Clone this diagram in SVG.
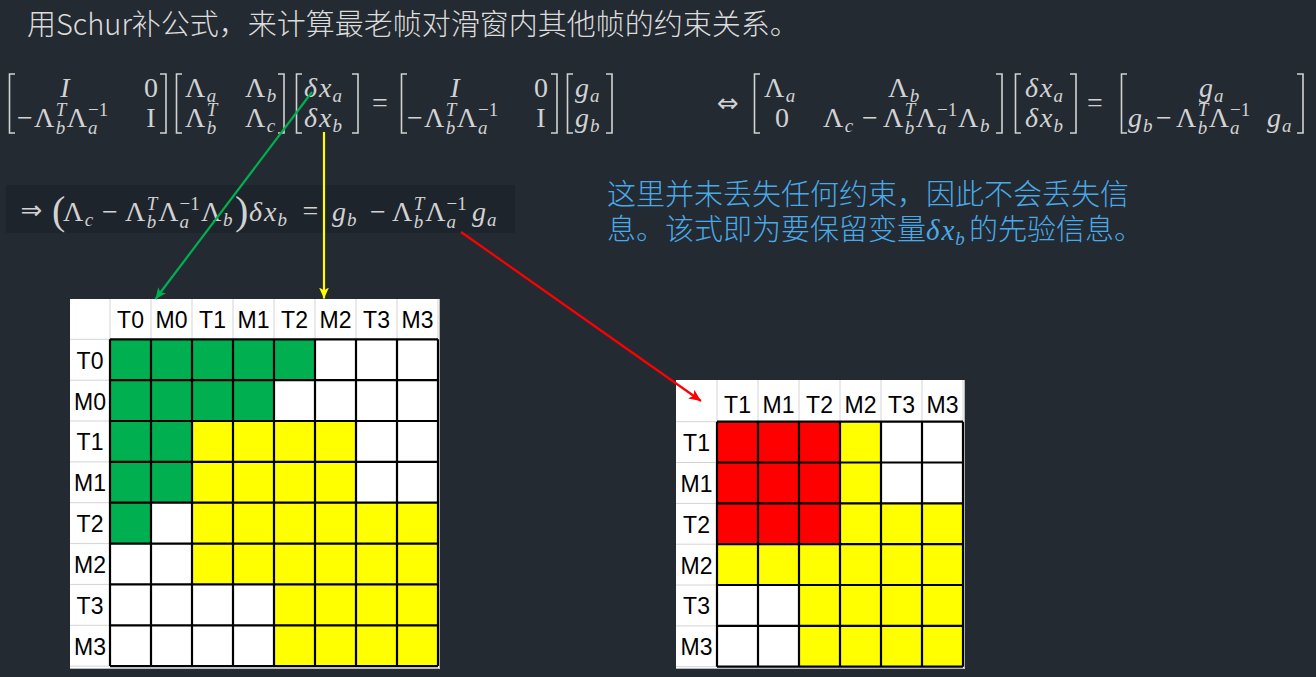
<svg xmlns="http://www.w3.org/2000/svg" width="1316" height="677" viewBox="0 0 1316 677">
<style>
.t{font-family:"Noto Sans CJK SC","Noto Sans",sans-serif;font-size:29px;fill:#dcdcdc;font-weight:300}
.bl{font-family:"Noto Sans CJK SC","Noto Sans",sans-serif;font-size:29px;fill:#4aa9e6;font-weight:300}
.m{font-family:"Liberation Serif",serif;font-size:28px;fill:#d2d2d2}
.bm{font-family:"Liberation Serif",serif;font-size:29px;fill:#4aa9e6;font-style:italic}
.i{font-style:italic}
.s{font-size:19px}
.ar{font-family:"DejaVu Sans",sans-serif;font-size:26px;fill:#d2d2d2}
.br{fill:none;stroke:#d2d2d2;stroke-width:1.6}
.h{font-family:"Liberation Sans",Arial,sans-serif;font-size:23px;fill:#000;text-anchor:middle}
.lg{fill:none;stroke:#d4d4d4;stroke-width:1}
.bk{fill:none;stroke:#000;stroke-width:2.2}
.G{fill:#00b050}.Y{fill:#ffff00}.R{fill:#ff0000}
.c{fill:none;stroke-width:2.2}
</style>
<defs>
<marker id="ag" viewBox="0 0 10 10" refX="10" refY="5" markerWidth="11" markerHeight="11" markerUnits="userSpaceOnUse" orient="auto"><path d="M0,0.5 L10,5 L0,9.5 L2.5,5 z" fill="#00b050"/></marker>
<marker id="ay" viewBox="0 0 10 10" refX="10" refY="5" markerWidth="11" markerHeight="11" markerUnits="userSpaceOnUse" orient="auto"><path d="M0,0.5 L10,5 L0,9.5 L2.5,5 z" fill="#ffff00"/></marker>
<marker id="ar" viewBox="0 0 10 10" refX="10" refY="5" markerWidth="12" markerHeight="12" markerUnits="userSpaceOnUse" orient="auto"><path d="M0,0.5 L10,5 L0,9.5 L2.5,5 z" fill="#ff0000"/></marker>
</defs>
<rect width="1316" height="677" fill="#232a32"/>

<g id="title">
<text class="t" x="27" y="35">用Schur补公式，来计算最老帧对滑窗内其他帧的约束关系。</text>
</g>

<g id="eq1">
<path class="br" d="M15,74H9.5V133H15M160,74H166V133H160"/>
<text class="m i" x="65" y="97" text-anchor="middle">I</text>
<text class="m" x="151" y="97" text-anchor="middle">0</text>
<text class="m" x="17" y="127">−</text>
<text class="m" x="34" y="127">Λ<tspan class="s i" dx="1.5" dy="-11">T</tspan><tspan class="s i" dx="-10.6" dy="18">b</tspan><tspan dx="1.5" dy="-7">Λ</tspan><tspan class="s" dx="1" dy="-11">−1</tspan><tspan class="s i" dx="-20.2" dy="18">a</tspan></text>
<text class="m" x="151" y="127" text-anchor="middle">I</text>

<path class="br" d="M182,74H176.5V133H182M278,74H284V133H278"/>
<text class="m" x="185" y="97">Λ<tspan class="s i" dx="1.5" dy="5">a</tspan></text>
<text class="m" x="245" y="97">Λ<tspan class="s i" dx="1.5" dy="5">b</tspan></text>
<text class="m" x="185" y="127">Λ<tspan class="s i" dx="1.5" dy="-11">T</tspan><tspan class="s i" dx="-10.6" dy="18">b</tspan></text>
<text class="m" x="245" y="127">Λ<tspan class="s i" dx="1.5" dy="5">c</tspan></text>

<path class="br" d="M302,74H296.5V133H302M352,74H358V133H352"/>
<text class="m i" x="304" y="97">δ<tspan dx="2">x</tspan><tspan class="s" dx="1" dy="5">a</tspan></text>
<text class="m i" x="304" y="127">δ<tspan dx="2">x</tspan><tspan class="s" dx="1" dy="5">b</tspan></text>

<text class="m" x="380" y="112" text-anchor="middle">=</text>

<path class="br" d="M407,74H401.5V133H407M551,74H557V133H551"/>
<text class="m i" x="455" y="97" text-anchor="middle">I</text>
<text class="m" x="541" y="97" text-anchor="middle">0</text>
<text class="m" x="407" y="127">−</text>
<text class="m" x="424" y="127">Λ<tspan class="s i" dx="1.5" dy="-11">T</tspan><tspan class="s i" dx="-10.6" dy="18">b</tspan><tspan dx="1.5" dy="-7">Λ</tspan><tspan class="s" dx="1" dy="-11">−1</tspan><tspan class="s i" dx="-20.2" dy="18">a</tspan></text>
<text class="m" x="541" y="127" text-anchor="middle">I</text>

<path class="br" d="M573,74H567.5V133H573M606,74H612V133H606"/>
<text class="m i" x="575" y="97">g<tspan class="s" dx="1" dy="5">a</tspan></text>
<text class="m i" x="575" y="127">g<tspan class="s" dx="1" dy="5">b</tspan></text>

<text class="ar" x="728" y="112" text-anchor="middle">⇔</text>

<path class="br" d="M760,74H754.5V133H760M996,74H1002V133H996"/>
<text class="m" x="764" y="97">Λ<tspan class="s i" dx="1.5" dy="5">a</tspan></text>
<text class="m" x="888" y="97">Λ<tspan class="s i" dx="1.5" dy="5">b</tspan></text>
<text class="m" x="782" y="127" text-anchor="middle">0</text>
<text class="m" x="823" y="127">Λ<tspan class="s i" dx="1.5" dy="5">c</tspan></text>
<text class="m" x="862" y="127">−</text>
<text class="m" x="883" y="127">Λ<tspan class="s i" dx="1.5" dy="-11">T</tspan><tspan class="s i" dx="-10.6" dy="18">b</tspan><tspan dx="1.5" dy="-7">Λ</tspan><tspan class="s" dx="1" dy="-11">−1</tspan><tspan class="s i" dx="-20.2" dy="18">a</tspan><tspan dx="11.5" dy="-7">Λ</tspan><tspan class="s i" dx="1.5" dy="5">b</tspan></text>

<path class="br" d="M1021,74H1015.5V133H1021M1070,74H1076V133H1070"/>
<text class="m i" x="1025" y="97">δ<tspan dx="2">x</tspan><tspan class="s" dx="1" dy="5">a</tspan></text>
<text class="m i" x="1025" y="127">δ<tspan dx="2">x</tspan><tspan class="s" dx="1" dy="5">b</tspan></text>

<text class="m" x="1095" y="112" text-anchor="middle">=</text>

<path class="br" d="M1127,74H1121.5V133H1127M1297,74H1303V133H1297"/>
<text class="m i" x="1199" y="97">g<tspan class="s" dx="1" dy="5">a</tspan></text>
<text class="m i" x="1128" y="127">g<tspan class="s" dx="1" dy="5">b</tspan></text>
<text class="m" x="1156" y="127">−</text>
<text class="m" x="1176" y="127">Λ<tspan class="s i" dx="1.5" dy="-11">T</tspan><tspan class="s i" dx="-10.6" dy="18">b</tspan><tspan dx="1.5" dy="-7">Λ</tspan><tspan class="s" dx="1" dy="-11">−1</tspan><tspan class="s i" dx="-20.2" dy="18">a</tspan></text>
<text class="m i" x="1267" y="127">g<tspan class="s" dx="1" dy="5">a</tspan></text>
</g>

<g id="eq2">
<rect x="6" y="185" width="509" height="48" fill="#1e242b"/>
<text class="ar" x="31.5" y="219" text-anchor="middle">⇒</text>
<text class="m" x="52" y="224" style="font-size:40px">(</text>
<text class="m" x="63" y="221">Λ<tspan class="s i" dx="1.5" dy="5">c</tspan></text>
<text class="m" x="102" y="221">−</text>
<text class="m" x="125" y="221">Λ<tspan class="s i" dx="1.5" dy="-11">T</tspan><tspan class="s i" dx="-10.6" dy="18">b</tspan><tspan dx="2" dy="-7">Λ</tspan><tspan class="s" dx="1" dy="-11">−1</tspan><tspan class="s i" dx="-20.2" dy="18">a</tspan><tspan dx="12" dy="-7">Λ</tspan><tspan class="s i" dx="1.5" dy="5">b</tspan></text>
<text class="m" x="235" y="224" style="font-size:40px">)</text>
<text class="m i" x="249" y="221">δ<tspan dx="2">x</tspan><tspan class="s" dx="1" dy="5">b</tspan></text>
<text class="m" x="310.5" y="220" text-anchor="middle">=</text>
<text class="m i" x="332" y="221">g<tspan class="s" dx="1" dy="5">b</tspan></text>
<text class="m" x="370" y="221">−</text>
<text class="m" x="392" y="221">Λ<tspan class="s i" dx="1.5" dy="-11">T</tspan><tspan class="s i" dx="-10.6" dy="18">b</tspan><tspan dx="2" dy="-7">Λ</tspan><tspan class="s" dx="1" dy="-11">−1</tspan><tspan class="s i" dx="-20.2" dy="18">a</tspan></text>
<text class="m i" x="472" y="221">g<tspan class="s" dx="1" dy="5">a</tspan></text>
</g>

<g id="note">
<text class="bl" x="607" y="205">这里并未丢失任何约束，因此不会丢失信</text>
<text class="bl" x="607" y="240">息。该式即为要保留变量</text>
<text class="bm" x="926" y="240">δ<tspan dx="2">x</tspan><tspan class="s" dx="1" dy="5">b</tspan></text>
<text class="bl" x="969" y="240">的先验信息。</text>
</g>

<g id="matrix-left">
<rect x="70" y="299" width="370" height="370" fill="#fff"/>
<path d="M439.5,299V668.5H70" fill="none" stroke="#b8b8b8" stroke-width="1"/>
<path class="lg" d="M110,299V339M151,299V339M192,299V339M233,299V339M274,299V339M315,299V339M356,299V339M397,299V339M438,299V339M70,339.3H110M70,380.2H110M70,421H110M70,461.9H110M70,502.7H110M70,543.6H110M70,584.4H110M70,625.3H110M70,666.1H110"/>
<rect class="G" x="110" y="339.3" width="205" height="40.9"/>
<rect class="G" x="110" y="380.2" width="164" height="40.8"/>
<rect class="G" x="110" y="421" width="82" height="81.7"/>
<rect class="G" x="110" y="502.7" width="41" height="40.9"/>
<rect class="Y" x="192" y="421" width="164" height="81.7"/>
<rect class="Y" x="192" y="502.7" width="246" height="81.7"/>
<rect class="Y" x="274" y="584.4" width="164" height="81.7"/>
<path class="bk" d="M110,339.3V666.1M151,339.3V666.1M192,339.3V666.1M233,339.3V666.1M274,339.3V666.1M315,339.3V666.1M356,339.3V666.1M397,339.3V666.1M438,339.3V666.1M110,339.3H438M110,380.2H438M110,421H438M110,461.9H438M110,502.7H438M110,543.6H438M110,584.4H438M110,625.3H438M110,666.1H438"/>
<text class="h" x="130.5" y="328">T0</text><text class="h" x="171.5" y="328">M0</text><text class="h" x="212.5" y="328">T1</text><text class="h" x="253.5" y="328">M1</text><text class="h" x="294.5" y="328">T2</text><text class="h" x="335.5" y="328">M2</text><text class="h" x="376.5" y="328">T3</text><text class="h" x="417.5" y="328">M3</text>
<text class="h" x="90" y="369">T0</text><text class="h" x="90" y="410">M0</text><text class="h" x="90" y="450">T1</text><text class="h" x="90" y="491">M1</text><text class="h" x="90" y="532">T2</text><text class="h" x="90" y="573">M2</text><text class="h" x="90" y="614">T3</text><text class="h" x="90" y="655">M3</text>
</g>

<g id="matrix-right">
<rect x="676" y="380" width="289" height="289" fill="#fff"/>
<path d="M964.5,380V668.5H676" fill="none" stroke="#b8b8b8" stroke-width="1"/>
<path class="lg" d="M717,380V421.7M758,380V421.7M799,380V421.7M840,380V421.7M881,380V421.7M922,380V421.7M963,380V421.7M676,421.7H717M676,462.5H717M676,503.4H717M676,544.2H717M676,585H717M676,625.9H717M676,666.7H717"/>
<rect class="R" x="717" y="421.7" width="123" height="122.5"/>
<rect class="Y" x="840" y="421.7" width="41" height="81.7"/>
<rect class="Y" x="840" y="503.4" width="123" height="40.8"/>
<rect class="Y" x="717" y="544.2" width="246" height="40.8"/>
<rect class="Y" x="799" y="585" width="164" height="81.7"/>
<path class="bk" d="M717,421.7V666.7M758,421.7V666.7M799,421.7V666.7M840,421.7V666.7M881,421.7V666.7M922,421.7V666.7M963,421.7V666.7M717,421.7H963M717,462.5H963M717,503.4H963M717,544.2H963M717,585H963M717,625.9H963M717,666.7H963"/>
<text class="h" x="737.5" y="413">T1</text><text class="h" x="778.5" y="413">M1</text><text class="h" x="819.5" y="413">T2</text><text class="h" x="860.5" y="413">M2</text><text class="h" x="901.5" y="413">T3</text><text class="h" x="942.5" y="413">M3</text>
<text class="h" x="696.5" y="451">T1</text><text class="h" x="696.5" y="492">M1</text><text class="h" x="696.5" y="533">T2</text><text class="h" x="696.5" y="574">M2</text><text class="h" x="696.5" y="614">T3</text><text class="h" x="696.5" y="655">M3</text>
</g>

<g id="connectors">
<path class="c" d="M312,92L155.5,299" stroke="#00b050" marker-end="url(#ag)"/>
<path class="c" d="M324,132V298.5" stroke="#ffff00" stroke-width="2" marker-end="url(#ay)"/>
<path class="c" d="M461,232L701,401" stroke="#ff0000" marker-end="url(#ar)"/>
</g>
</svg>
